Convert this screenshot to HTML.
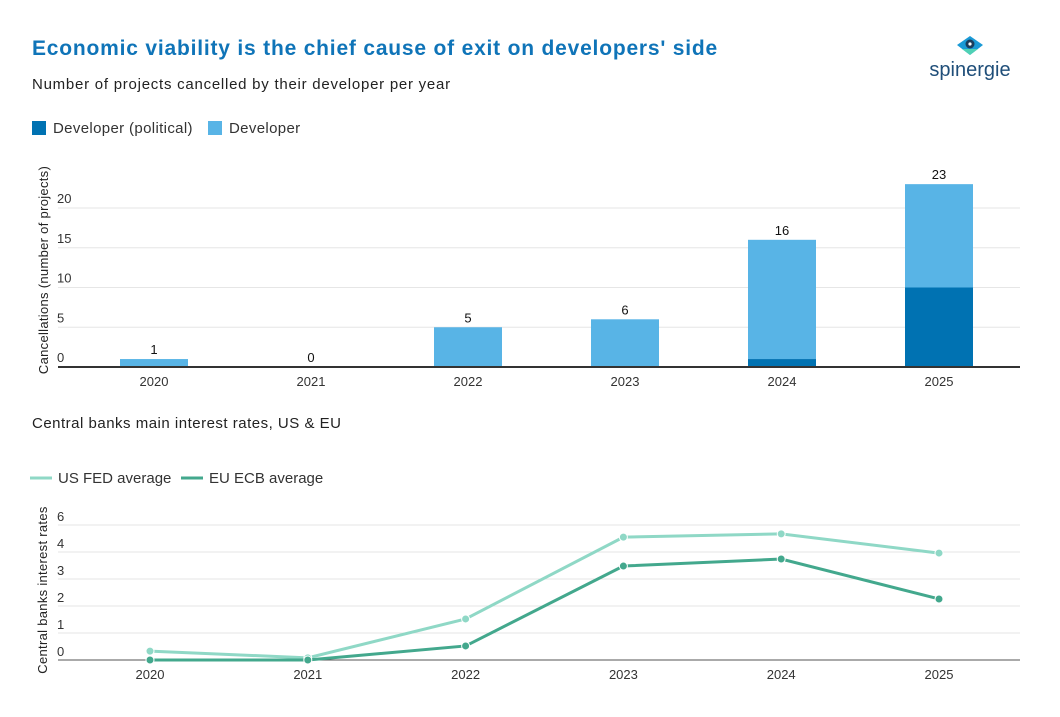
<!DOCTYPE html>
<html><head><meta charset="utf-8"><style>
body{margin:0;background:#fff;font-family:"Liberation Sans",sans-serif;}
</style></head><body>
<svg width="1060" height="712" xmlns="http://www.w3.org/2000/svg" font-family="Liberation Sans, sans-serif">
<text x="32" y="55" font-size="21" font-weight="bold" fill="#0f74b8" letter-spacing="0.8">Economic viability is the chief cause of exit on developers' side</text>
<text x="32" y="89" font-size="15" fill="#222" letter-spacing="0.75">Number of projects cancelled by their developer per year</text>
<g>
<path d="M957 45 L970 36 L983 45 L970 55 Z" fill="#1a9ad6"/>
<path d="M962 49 L978 49 L970 55 Z" fill="#4fd1b5"/>
<circle cx="970" cy="44" r="4.5" fill="#1a3d5c"/><circle cx="970" cy="44" r="1.6" fill="#fff"/>
<text x="970" y="76" font-size="20" fill="#1f4e79" text-anchor="middle">spinergie</text>
</g>
<g>
<rect x="32" y="121" width="14" height="14" fill="#0072b2"/>
<text x="53" y="133" font-size="15" fill="#333" letter-spacing="0.35">Developer (political)</text>
<rect x="208" y="121" width="14" height="14" fill="#58b4e6"/>
<text x="229" y="133" font-size="15" fill="#333" letter-spacing="0.35">Developer</text>
</g>
<g id="bars"></g>
<text transform="translate(48,270) rotate(-90)" font-size="13" fill="#222" text-anchor="middle" letter-spacing="0.3">Cancellations (number of projects)</text>
<text x="32" y="428" font-size="15" fill="#222" letter-spacing="0.5">Central banks main interest rates, US &amp; EU</text>
<g>
<line x1="30" y1="478" x2="52" y2="478" stroke="#8fd8c6" stroke-width="3"/>
<text x="58" y="483" font-size="15" fill="#333">US FED average</text>
<line x1="181" y1="478" x2="203" y2="478" stroke="#43a88d" stroke-width="3"/>
<text x="209" y="483" font-size="15" fill="#333">EU ECB average</text>
</g>
<text transform="translate(47,590) rotate(-90)" font-size="13" fill="#222" text-anchor="middle" letter-spacing="0.3">Central banks interest rates</text>
<g id="lines"></g>
</svg>
<script>
const years=["2020","2021","2022","2023","2024","2025"];
const political=[0,0,0,0,1,10];
const developer=[1,0,5,6,15,13];
const barTicks=[0,5,10,15,20];
const fedRates=[0.33,0.08,1.52,4.55,4.67,3.96];
const ecbRates=[0,0,0.52,3.48,3.74,2.26];
const lineTickLabels=["0","1","2","3","4","6"];
const NS="http://www.w3.org/2000/svg";
function mk(p,t,a){const e=document.createElementNS(NS,t);for(const k in a)e.setAttribute(k,a[k]);p.appendChild(e);return e;}
const bg=document.getElementById('bars');
const bx=i=>154+i*157, by=v=>367-v*7.95;
barTicks.forEach(t=>{
 if(t>0){const l=mk(bg,'line',{x1:58,x2:1020,y1:by(t),y2:by(t),stroke:'#e6e6e6'});
 
 }
 const tx=mk(bg,'text',{x:57,y:by(t)-5,'font-size':13,fill:'#333'});tx.textContent=t;
 
 
});
years.forEach((y,i)=>{
 const w=68,x=bx(i)-w/2;
 const p=political[i],d=developer[i];
 if(d>0){const r=mk(bg,'rect',{x:x,y:by(p+d),width:w,height:d*7.95,fill:'#58b4e6'});
 
 }
 if(p>0){const r=mk(bg,'rect',{x:x,y:by(p),width:w,height:p*7.95,fill:'#0072b2'});
 
 }
 const lb=mk(bg,'text',{x:bx(i),y:by(p+d)-5,'font-size':13,fill:'#111','text-anchor':'middle'});lb.textContent=p+d;
 
 
 const xl=mk(bg,'text',{x:bx(i),y:386,'font-size':13,fill:'#333','text-anchor':'middle'});xl.textContent=y;
 
 
});
const ax=mk(bg,'line',{x1:58,x2:1020,y1:367,y2:367,stroke:'#333','stroke-width':2});


const lg=document.getElementById('lines');
const lx=i=>150+i*157.8, ly=v=>660-v*27;
lineTickLabels.forEach((t,i)=>{
 if(i>0){const l=mk(lg,'line',{x1:58,x2:1020,y1:ly(i),y2:ly(i),stroke:'#e6e6e6'});
 
 }
 const tx=mk(lg,'text',{x:57,y:ly(i)-4,'font-size':13,fill:'#333'});tx.textContent=t;
 
 
});
const lax=mk(lg,'line',{x1:58,x2:1020,y1:660,y2:660,stroke:'#555','stroke-width':1});


years.forEach((y,i)=>{const xl=mk(lg,'text',{x:lx(i),y:679,'font-size':13,fill:'#333','text-anchor':'middle'});xl.textContent=y;
 
 });
[[fedRates,'#8fd8c6','fed'],[ecbRates,'#43a88d','ecb']].forEach(([arr,c,n])=>{
 const pl=mk(lg,'polyline',{points:arr.map((v,i)=>lx(i)+','+ly(v)).join(' '),fill:'none',stroke:c,'stroke-width':3});
 
 
 arr.forEach((v,i)=>{const ci=mk(lg,'circle',{cx:lx(i),cy:ly(v),r:4,fill:c,stroke:'#fff','stroke-width':1});
 
 });
});
</script>
</body></html>
